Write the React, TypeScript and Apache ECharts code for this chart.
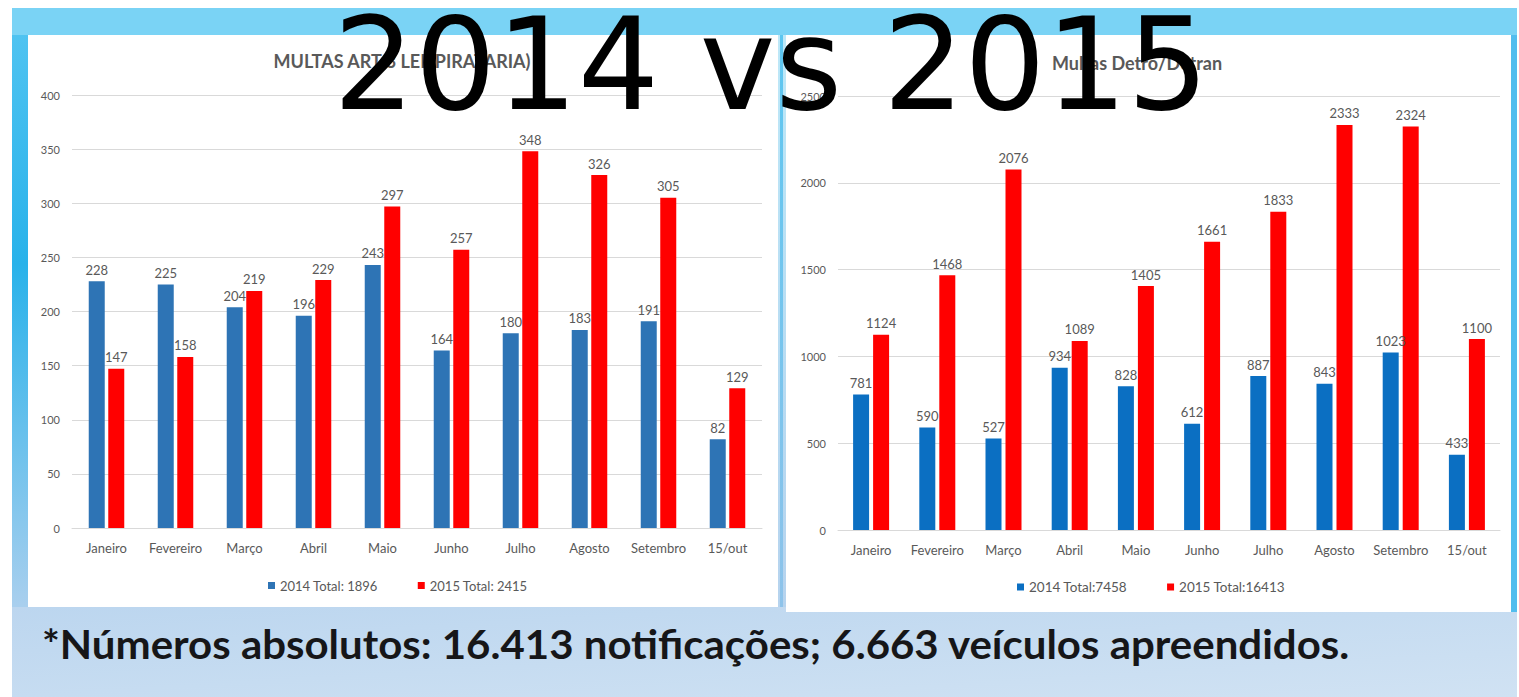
import React, { useEffect, useRef } from "react";
import * as echarts from "echarts";

const categories = ["Janeiro", "Fevereiro", "Março", "Abril", "Maio", "Junho", "Julho", "Agosto", "Setembro", "15/out"];
const piracy2014 = [228, 225, 204, 196, 243, 164, 180, 183, 191, 82];
const piracy2015 = [147, 158, 219, 229, 297, 257, 348, 326, 305, 129];
const detro2014 = [781, 590, 527, 934, 828, 612, 887, 843, 1023, 433];
const detro2015 = [1124, 1468, 2076, 1089, 1405, 1661, 1833, 2333, 2324, 1100];
const piracyNames = ["2014 Total: 1896", "2015 Total: 2415"];
const detroNames = ["2014 Total:7458", "2015 Total:16413"];
const leftAxis = { min: 0, max: 400, interval: 50 };
const rightAxis = { min: 0, max: 2500, interval: 500 };
const leftTitle = "MULTAS ART 3 LEI (PIRATARIA)";
const rightTitle = "Multas Detro/Detran";
const mainTitle = "2014 vs 2015";
const footnote = "*Números absolutos: 16.413 notificações; 6.663 veículos apreendidos.";

const FONT = "Lato, 'Open Sans', sans-serif";
const GRAY = "#595959";

export default function App() {
  const ref = useRef<HTMLDivElement>(null);
  useEffect(() => {
    if (!ref.current) return;
    const chart = echarts.init(ref.current, undefined, { renderer: "svg" });
    const labelStyle = { show: true, position: "top" as const, distance: 5, color: GRAY, fontSize: 13, fontFamily: FONT };
    const xAxisCommon = {
      type: "category" as const,
      data: categories,
      axisTick: { show: false },
      axisLine: { show: true, lineStyle: { color: "#d9d9d9" } },
      axisLabel: { color: GRAY, fontSize: 13, fontFamily: FONT, margin: 13, interval: 0 },
    };
    const yAxisCommon = {
      type: "value" as const,
      axisLine: { show: false },
      axisTick: { show: false },
      splitLine: { lineStyle: { color: "#d9d9d9" } },
      axisLabel: { color: GRAY, fontSize: 11, fontFamily: FONT, margin: 12, formatter: (v: number) => String(v) },
    };
    const legendText = { color: GRAY, fontSize: 13, fontFamily: FONT };
    chart.setOption({
      animation: false,
      backgroundColor: "#ffffff",
      grid: [
        { left: 72, right: 757, top: 95, bottom: 169 },
        { left: 838, right: 19, top: 96, bottom: 167 },
      ],
      xAxis: [
        { ...xAxisCommon, gridIndex: 0 },
        { ...xAxisCommon, gridIndex: 1 },
      ],
      yAxis: [
        { ...yAxisCommon, gridIndex: 0, ...leftAxis },
        { ...yAxisCommon, gridIndex: 1, ...rightAxis },
      ],
      legend: [
        {
          data: piracyNames,
          left: 263,
          top: 574,
          icon: "rect",
          itemWidth: 7,
          itemHeight: 7,
          itemGap: 40,
          textStyle: legendText,
        },
        {
          data: detroNames,
          left: 1012,
          top: 575,
          icon: "rect",
          itemWidth: 7,
          itemHeight: 7,
          itemGap: 40,
          textStyle: { ...legendText, fontSize: 13.5 },
        },
      ],
      series: [
        { name: piracyNames[0], type: "bar", xAxisIndex: 0, yAxisIndex: 0, data: piracy2014, barWidth: 16, barGap: "22%", itemStyle: { color: "#2e74b5" }, label: labelStyle },
        { name: piracyNames[1], type: "bar", xAxisIndex: 0, yAxisIndex: 0, data: piracy2015, barWidth: 16, barGap: "22%", itemStyle: { color: "#ff0000" }, label: labelStyle },
        { name: detroNames[0], type: "bar", xAxisIndex: 1, yAxisIndex: 1, data: detro2014, barWidth: 16, barGap: "25%", itemStyle: { color: "#0b6fc2" }, label: labelStyle },
        { name: detroNames[1], type: "bar", xAxisIndex: 1, yAxisIndex: 1, data: detro2015, barWidth: 16, barGap: "25%", itemStyle: { color: "#ff0000" }, label: labelStyle },
      ],
      graphic: [
        { type: "rect", z: -30, silent: true, shape: { x: 0, y: 0, width: 1519, height: 697 }, style: { fill: "#ffffff" } },
        {
          type: "rect", z: -29, silent: true,
          shape: { x: 12, y: 8, width: 1505, height: 689 },
          style: { fill: { type: "linear", x: 0, y: 0, x2: 0, y2: 1, colorStops: [{ offset: 0, color: "#5cc8f2" }, { offset: 0.5, color: "#7cc6ee" }, { offset: 1, color: "#c9def2" }] } as any },
        },
        { type: "rect", z: -28, silent: true, shape: { x: 12, y: 8, width: 1505, height: 27 }, style: { fill: "#7ad3f5" } },
        {
          type: "rect", z: -28, silent: true,
          shape: { x: 12, y: 35, width: 16, height: 572 },
          style: { fill: { type: "linear", x: 0, y: 0, x2: 0, y2: 1, colorStops: [{ offset: 0, color: "#4fc3f1" }, { offset: 0.4, color: "#28b2ea" }, { offset: 1, color: "#a9cfee" }] } as any },
        },
        {
          type: "rect", z: -28, silent: true,
          shape: { x: 778, y: 35, width: 8, height: 577 },
          style: { fill: { type: "linear", x: 0, y: 0, x2: 0, y2: 1, colorStops: [{ offset: 0, color: "#bde8f8" }, { offset: 1, color: "#b6d3ee" }] } as any },
        },
        {
          type: "rect", z: -27, silent: true,
          shape: { x: 780, y: 35, width: 3, height: 572 },
          style: { fill: { type: "linear", x: 0, y: 0, x2: 0, y2: 1, colorStops: [{ offset: 0, color: "#5cc6f0" }, { offset: 1, color: "#8ec3ea" }] } as any },
        },
        {
          type: "rect", z: -28, silent: true,
          shape: { x: 12, y: 607, width: 1505, height: 90 },
          style: { fill: { type: "linear", x: 0, y: 0, x2: 1, y2: 1, colorStops: [{ offset: 0, color: "#bcd6ef" }, { offset: 1, color: "#d0e2f3" }] } as any },
        },
        {
          type: "rect", z: -28, silent: true,
          shape: { x: 1511, y: 35, width: 6, height: 577 },
          style: { fill: "#52bdee" },
        },
        { type: "rect", z: -26, silent: true, shape: { x: 28, y: 35, width: 750, height: 572 }, style: { fill: "#ffffff" } },
        { type: "rect", z: -26, silent: true, shape: { x: 786, y: 35, width: 725, height: 577 }, style: { fill: "#ffffff" } },
        {
          type: "text", z: 10, silent: true, x: 402, y: 61,
          style: { text: leftTitle, fill: GRAY, font: `bold 18px ${FONT}`, align: "center", verticalAlign: "middle" },
        },
        {
          type: "text", z: 10, silent: true, x: 1137, y: 63,
          style: { text: rightTitle, fill: GRAY, font: `bold 18px ${FONT}`, align: "center", verticalAlign: "middle" },
        },
        {
          type: "text", z: 100, silent: true, x: 771, y: 64,
          style: { text: mainTitle, fill: "#000000", font: "128px 'DejaVu Sans', sans-serif", lineHeight: 110, align: "center", verticalAlign: "middle" },
        },
        {
          type: "text", z: 100, silent: true, x: 42, y: 644, scaleX: 1.05,
          style: { text: footnote, fill: "#161618", font: `bold 40px ${FONT}`, align: "left", verticalAlign: "middle" },
        },
      ],
    });
    return () => chart.dispose();
  }, []);
  return <div ref={ref} style={{ position: "absolute", left: 0, top: 0, width: 1519, height: 697 }} />;
}
